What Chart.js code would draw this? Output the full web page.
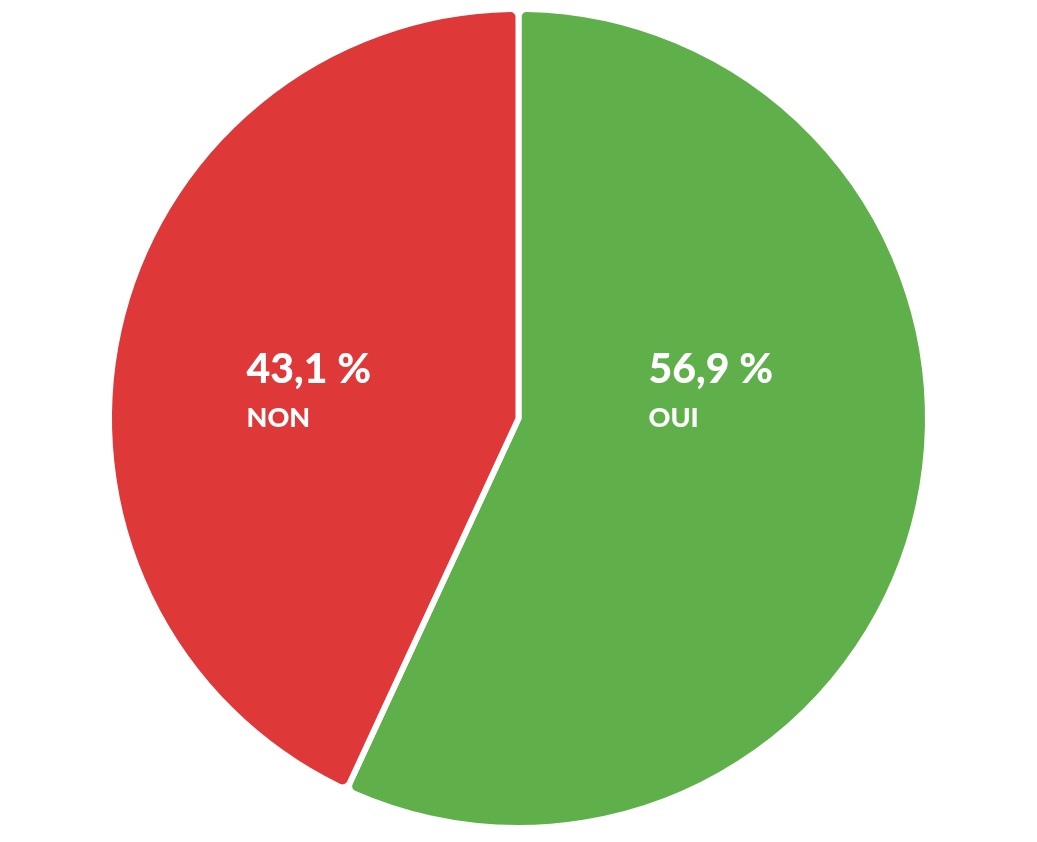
<!DOCTYPE html>
<html>
<head>
<meta charset="utf-8">
<script src="https://cdn.jsdelivr.net/npm/chart.js@4"></script>
<style>
  html, body { margin: 0; padding: 0; background: #fff; }
  #wrap { width: 1037px; height: 842px; }
</style>
</head>
<body>
<div id="wrap"><canvas id="pie"></canvas></div>
<script>
var labels = ["OUI", "NON"];
var values = [56.9, 43.1];
var colors = ["#5FB04A", "#DE3839"];

// draw "56,9 %" + label inside each slice
var sliceLabels = {
    id: "sliceLabels",
    afterDatasetsDraw: function(chart) {
        var ctx = chart.ctx;
        var arcs = chart.getDatasetMeta(0).data;
        var cx = arcs[0].x, cy = arcs[0].y;
        // left edge of each text block, relative to pie centre
        var offsets = [130, -272];
        ctx.save();
        ctx.fillStyle = "#fff";
        ctx.textAlign = "left";
        ctx.textBaseline = "alphabetic";
        for (let i = 0; i < values.length; i++) {
            var x = cx + offsets[i];
            ctx.font = "900 41px Lato";
            ctx.fillText(values[i].toFixed(1).replace(".", ",") + " %", x, cy - 36);
            ctx.font = "900 27px Lato";
            ctx.fillText(labels[i], x, cy + 8);
        }
        ctx.restore();
    }
};

new Chart(document.getElementById("pie"), {
    type: "pie",
    data: {
        labels: labels,
        datasets: [{
            data: values,
            backgroundColor: colors,
            borderColor: "#fff",
            borderWidth: 6,
            borderRadius: 8
        }]
    },
    options: {
        responsive: true,
        maintainAspectRatio: false,
        animation: false,
        layout: { padding: { top: 6, bottom: 11 } },
        plugins: {
            legend: { display: false },
            tooltip: { enabled: false }
        }
    },
    plugins: [sliceLabels]
});
</script>
</body>
</html>
